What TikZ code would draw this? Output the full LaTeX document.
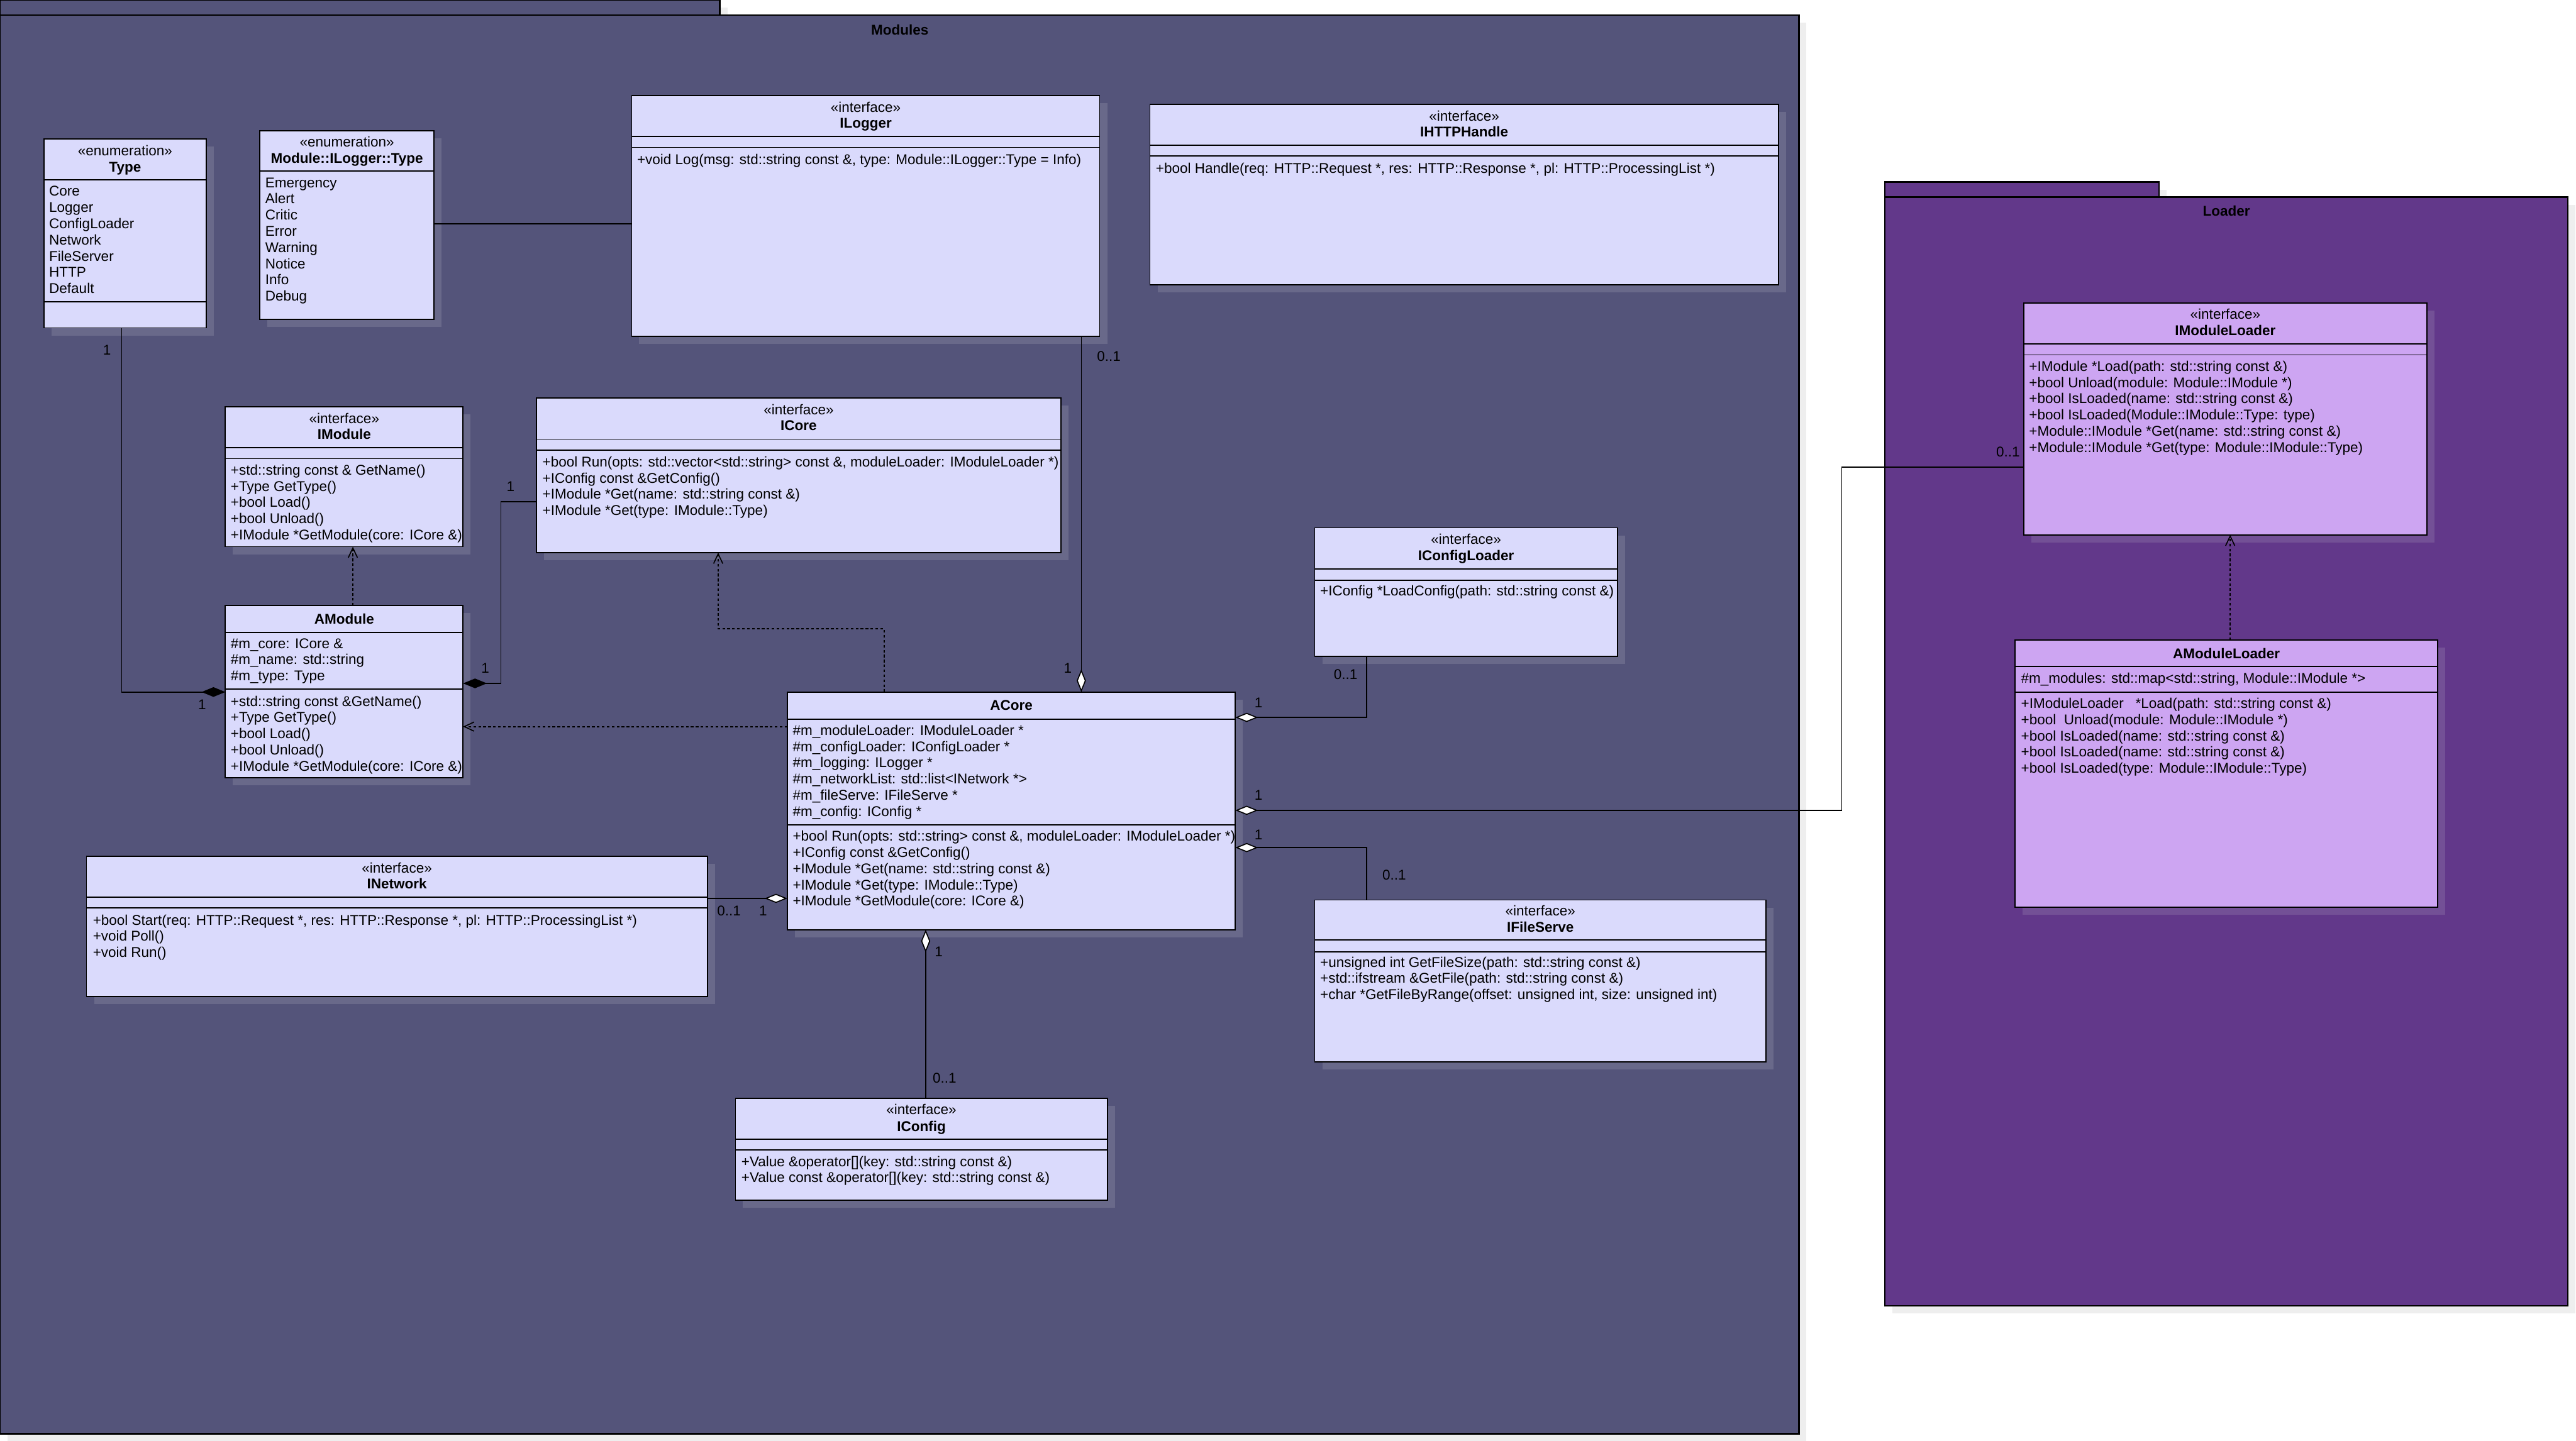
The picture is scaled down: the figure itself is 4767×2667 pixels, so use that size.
\documentclass[tikz,border=0pt]{standalone}
\usepackage{fontspec}
\setmainfont{Liberation Sans}
\usetikzlibrary{arrows.meta,fit}
\definecolor{modbg}{HTML}{54547A}
\definecolor{modcls}{HTML}{DADAFC}
\definecolor{modsh}{HTML}{69698A}
\definecolor{ldbg}{HTML}{62388A}
\definecolor{ldcls}{HTML}{CDA5F2}
\definecolor{ldsh}{HTML}{735096}
\definecolor{pkgsh}{HTML}{EEEEEE}
\tikzset{
  txt/.style={inner sep=0pt, outer sep=0pt, text=black, font=\fontsize{7.45}{9}\selectfont},
  lbl/.style={txt, anchor=center},
  clsbox/.style={draw=black, line width=0.6pt, inner sep=0pt, outer sep=0pt},
  pkgbox/.style={draw=black, line width=0.8pt, inner sep=0pt, outer sep=0pt},
  divl/.style={draw=black, line width=0.6pt},
  conn/.style={draw=black, line width=0.55pt},
  agg/.style={conn, {Diamond[length=4.2mm,width=1.7mm,fill=white]}-},
  comp/.style={conn, {Diamond[length=4.4mm,width=1.8mm,fill=black]}-},
  real/.style={conn, dash pattern=on 1.4pt off 1.2pt, -{Straight Barb[length=1.8mm,width=1.7mm]}},
}
\newcommand{\ubox}[7]{%
  \fill[#7] ({#2+14},{#3+14}) rectangle ({#4+14},{#5+14});
  \node[clsbox, fill=#6, fit={(#2,#3) (#4,#5)}] (#1) {};}
\newcommand{\udiv}[2]{\draw[divl] (#1.west |- 0,#2) -- (#1.east |- 0,#2);}
\newcommand{\ulines}[4]{\foreach \ltxt [count=\i from 0] in {#4} {\node[txt, anchor=base west] (#1\i) at (#2,{#3+30*\i}) {\ltxt};}}
\begin{document}
\begin{tikzpicture}[x=0.01cm,y=-0.01cm]
\useasboundingbox (0,0) rectangle (4767,2667);
% packages
\fill[pkgsh] (14,14) rectangle (1346,42);
\fill[pkgsh] (14,42) rectangle (3343,2667);
\node[pkgbox, fill=modbg, fit={(0,0) (1332,28)}] (modtab) {};
\node[pkgbox, fill=modbg, fit={(0,28) (3329,2654)}] (modules) {};
\node[txt, anchor=base] (modlabel) at (1665,65) {\bfseries Modules};
\fill[pkgsh] (3502,351) rectangle (4009,379);
\fill[pkgsh] (3502,379) rectangle (4766,2431);
\node[pkgbox, fill=ldbg, fit={(3488,337) (3995,365)}] (ldtab) {};
\node[pkgbox, fill=ldbg, fit={(3488,365) (4752,2417)}] (loader) {};
\node[txt, anchor=base] (ldlabel) at (4120,400) {\bfseries Loader};
% Type
\ubox{type}{81}{257}{382}{607}{modcls}{modsh}
\udiv{type}{333}\udiv{type}{559}
\node[txt,anchor=base] (type-s) at (231.5,288) {«enumeration»};
\node[txt,anchor=base] (type-n) at (231.5,318) {\bfseries Type};
\ulines{typeL}{91}{363}{{Core},{Logger},{ConfigLoader},{Network},{FileServer},{HTTP},{Default}}
% Module::ILogger::Type
\ubox{logtype}{481}{242}{803}{591}{modcls}{modsh}
\udiv{logtype}{317}
\node[txt,anchor=base] (logtype-s) at (642,272) {«enumeration»};
\node[txt,anchor=base] (logtype-n) at (642,302) {\bfseries Module::ILogger::Type};
\ulines{logtypeL}{491}{347}{{Emergency},{Alert},{Critic},{Error},{Warning},{Notice},{Info},{Debug}}
% ILogger
\ubox{ilogger}{1169}{177}{2035}{623}{modcls}{modsh}
\udiv{ilogger}{253}\udiv{ilogger}{273}
\node[txt,anchor=base] (ilogger-s) at (1602,208) {«interface»};
\node[txt,anchor=base] (ilogger-n) at (1602,237) {\bfseries ILogger};
\ulines{iloggerO}{1179}{304}{{+void Log(msg: std::string const \&, type: Module::ILogger::Type = Info)}}
% IHTTPHandle
\ubox{ihttp}{2128}{193}{3291}{527}{modcls}{modsh}
\udiv{ihttp}{269}\udiv{ihttp}{289}
\node[txt,anchor=base] (ihttp-s) at (2709.5,224) {«interface»};
\node[txt,anchor=base] (ihttp-n) at (2709.5,253) {\bfseries IHTTPHandle};
\ulines{ihttpO}{2139}{321}{{+bool Handle(req: HTTP::Request *, res: HTTP::Response *, pl: HTTP::ProcessingList *)}}
% IModule
\ubox{imodule}{417}{753}{857}{1012}{modcls}{modsh}
\udiv{imodule}{829}\udiv{imodule}{849}
\node[txt,anchor=base] (imodule-s) at (637,784) {«interface»};
\node[txt,anchor=base] (imodule-n) at (637,813) {\bfseries IModule};
\ulines{imoduleO}{427}{879}{{+std::string const \& GetName()},{+Type GetType()},{+bool Load()},{+bool Unload()},{+IModule *GetModule(core: ICore \&)}}
% AModule
\ubox{amodule}{417}{1121}{857}{1440}{modcls}{modsh}
\udiv{amodule}{1171}\udiv{amodule}{1276}
\node[txt,anchor=base] (amodule-n) at (637,1155) {\bfseries AModule};
\ulines{amoduleA}{427}{1200}{{\#m\_core: ICore \&},{\#m\_name: std::string},{\#m\_type: Type}}
\ulines{amoduleO}{427}{1307}{{+std::string const \&GetName()},{+Type GetType()},{+bool Load()},{+bool Unload()},{+IModule *GetModule(core: ICore \&)}}
% ICore
\ubox{icore}{993}{737}{1963}{1023}{modcls}{modsh}
\udiv{icore}{813}\udiv{icore}{833}
\node[txt,anchor=base] (icore-s) at (1478,768) {«interface»};
\node[txt,anchor=base] (icore-n) at (1478,797) {\bfseries ICore};
\ulines{icoreO}{1004}{864}{{+bool Run(opts: std::vector<std::string> const \&, moduleLoader: IModuleLoader *)},{+IConfig const \&GetConfig()},{+IModule *Get(name: std::string const \&)},{+IModule *Get(type: IModule::Type)}}
% ACore
\ubox{acore}{1457}{1281}{2286}{1721}{modcls}{modsh}
\udiv{acore}{1331}\udiv{acore}{1527}
\node[txt,anchor=base] (acore-n) at (1871.5,1315) {\bfseries ACore};
\ulines{acoreA}{1467}{1361}{{\#m\_moduleLoader: IModuleLoader *},{\#m\_configLoader: IConfigLoader *},{\#m\_logging: ILogger *},{\#m\_networkList: std::list<INetwork *>},{\#m\_fileServe: IFileServe *},{\#m\_config: IConfig *}}
\ulines{acoreO}{1467}{1557}{{+bool Run(opts: std::string> const \&, moduleLoader: IModuleLoader *)},{+IConfig const \&GetConfig()},{+IModule *Get(name: std::string const \&)},{+IModule *Get(type: IModule::Type)},{+IModule *GetModule(core: ICore \&)}}
% IConfigLoader
\ubox{iconfigloader}{2433}{977}{2993}{1215}{modcls}{modsh}
\udiv{iconfigloader}{1053}\udiv{iconfigloader}{1074}
\node[txt,anchor=base] (icl-s) at (2713,1007) {«interface»};
\node[txt,anchor=base] (icl-n) at (2713,1037) {\bfseries IConfigLoader};
\ulines{iclO}{2443}{1103}{{+IConfig *LoadConfig(path: std::string const \&)}}
% IFileServe
\ubox{ifileserve}{2433}{1666}{3268}{1966}{modcls}{modsh}
\udiv{ifileserve}{1740}\udiv{ifileserve}{1762}
\node[txt,anchor=base] (ifs-s) at (2850.5,1695) {«interface»};
\node[txt,anchor=base] (ifs-n) at (2850.5,1725) {\bfseries IFileServe};
\ulines{ifsO}{2443}{1790}{{+unsigned int GetFileSize(path: std::string const \&)},{+std::ifstream \&GetFile(path: std::string const \&)},{+char *GetFileByRange(offset: unsigned int, size: unsigned int)}}
% INetwork
\ubox{inetwork}{160}{1585}{1309}{1845}{modcls}{modsh}
\udiv{inetwork}{1661}\udiv{inetwork}{1681}
\node[txt,anchor=base] (inet-s) at (734.5,1616) {«interface»};
\node[txt,anchor=base] (inet-n) at (734.5,1645) {\bfseries INetwork};
\ulines{inetO}{172}{1712}{{+bool Start(req: HTTP::Request *, res: HTTP::Response *, pl: HTTP::ProcessingList *)},{+void Poll()},{+void Run()}}
% IConfig
\ubox{iconfig}{1361}{2033}{2049}{2222}{modcls}{modsh}
\udiv{iconfig}{2109}\udiv{iconfig}{2129}
\node[txt,anchor=base] (icfg-s) at (1705,2063) {«interface»};
\node[txt,anchor=base] (icfg-n) at (1705,2094) {\bfseries IConfig};
\ulines{icfgO}{1372}{2159}{{+Value \&operator[](key: std::string const \&)},{+Value const \&operator[](key: std::string const \&)}}
% IModuleLoader
\ubox{imoduleloader}{3745}{561}{4491}{990}{ldcls}{ldsh}
\udiv{imoduleloader}{637}\udiv{imoduleloader}{657}
\node[txt,anchor=base] (iml-s) at (4118,591) {«interface»};
\node[txt,anchor=base] (iml-n) at (4118,621) {\bfseries IModuleLoader};
\ulines{imlO}{3755}{687}{{+IModule *Load(path: std::string const \&)},{+bool Unload(module: Module::IModule *)},{+bool IsLoaded(name: std::string const \&)},{+bool IsLoaded(Module::IModule::Type: type)},{+Module::IModule *Get(name: std::string const \&)},{+Module::IModule *Get(type: Module::IModule::Type)}}
% AModuleLoader
\ubox{amoduleloader}{3729}{1185}{4511}{1679}{ldcls}{ldsh}
\udiv{amoduleloader}{1234}\udiv{amoduleloader}{1281}
\node[txt,anchor=base] (aml-n) at (4120,1219) {\bfseries AModuleLoader};
\ulines{amlA}{3740}{1265}{{\#m\_modules: std::map<std::string, Module::IModule *>}}
\ulines{amlO}{3740}{1311}{{+IModuleLoader\ \ \ *Load(path: std::string const \&)},{+bool\ \ Unload(module: Module::IModule *)},{+bool IsLoaded(name: std::string const \&)},{+bool IsLoaded(name: std::string const \&)},{+bool IsLoaded(type: Module::IModule::Type)}}
% connectors
\draw[conn] (logtype.east |- 0,414) -- (ilogger.west |- 0,414);
\draw[comp] (amodule.west |- 0,1281) -- (225,1281) -- (type.south -| 225,0);
\node[lbl] (c1a) at (198,648) {1};
\node[lbl] (c1b) at (374,1304) {1};
\draw[comp] (amodule.east |- 0,1265) -- (927,1265) -- (927,929) -- (icore.west |- 0,929);
\node[lbl] (c2a) at (898,1237) {1};
\node[lbl] (c2b) at (945,900) {1};
\draw[real] (amodule.north -| 653,0) -- (imodule.south -| 653,0);
\draw[real] (acore.west |- 0,1345) -- (amodule.east |- 0,1345);
\draw[real] (acore.north -| 1636,0) -- (1636,1164) -- (1329,1164) -- (icore.south -| 1329,0);
\draw[agg] (acore.north -| 2001,0) -- (ilogger.south -| 2001,0);
\node[lbl] (c3a) at (2052,660) {0..1};
\node[lbl] (c3b) at (1976,1237) {1};
\draw[agg] (acore.east |- 0,1328) -- (2529,1328) -- (iconfigloader.south -| 2529,0);
\node[lbl] (c4a) at (2329,1301) {1};
\node[lbl] (c4b) at (2490,1248) {0..1};
\draw[agg] (acore.east |- 0,1500) -- (3408,1500) -- (3408,865) -- (imoduleloader.west |- 0,865);
\node[lbl] (c5a) at (2329,1472) {1};
\node[lbl] (c5b) at (3716,836) {0..1};
\draw[agg] (acore.east |- 0,1569) -- (2529,1569) -- (ifileserve.north -| 2529,0);
\node[lbl] (c6a) at (2329,1545) {1};
\node[lbl] (c6b) at (2580,1620) {0..1};
\draw[agg] (acore.west |- 0,1663) -- (inetwork.east |- 0,1663);
\node[lbl] (c7a) at (1349,1686) {0..1};
\node[lbl] (c7b) at (1412,1686) {1};
\draw[agg] (acore.south -| 1713,0) -- (iconfig.north -| 1713,0);
\node[lbl] (c8a) at (1737,1762) {1};
\node[lbl] (c8b) at (1748,1996) {0..1};
\draw[real] (amoduleloader.north -| 4127,0) -- (imoduleloader.south -| 4127,0);
\end{tikzpicture}
\end{document}
